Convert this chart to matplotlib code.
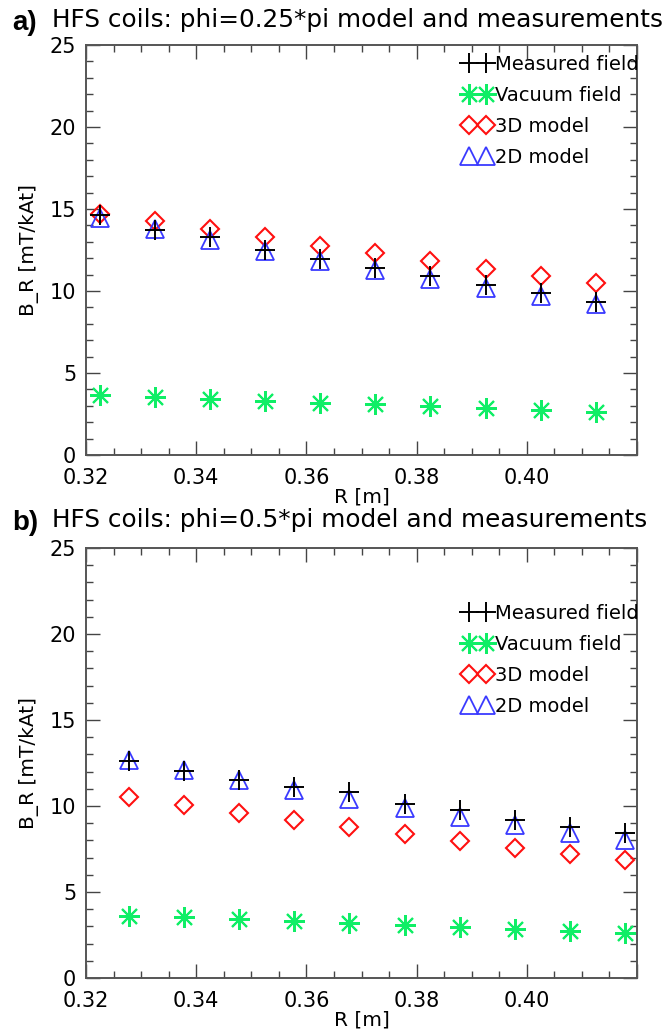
"""Two-panel B_R vs R comparison: measured field, vacuum field, 3D and 2D models."""
import matplotlib
matplotlib.use("Agg")
import matplotlib.pyplot as plt
from matplotlib.ticker import MultipleLocator, FixedLocator, FixedFormatter

# ---- panel a: phi = 0.25*pi
R_a = [0.3225, 0.3325, 0.3425, 0.3525, 0.3625, 0.3725, 0.3825, 0.3925, 0.4025, 0.4125]
meas_a = [14.65, 13.75, 13.3, 12.5, 11.95, 11.4, 10.9, 10.35, 9.85, 9.3]
vac_a = [3.67, 3.55, 3.43, 3.31, 3.19, 3.08, 2.98, 2.86, 2.74, 2.62]
model3d_a = [14.72, 14.27, 13.79, 13.27, 12.76, 12.32, 11.83, 11.37, 10.89, 10.48]
model2d_a = [14.45, 13.8, 13.1, 12.45, 11.85, 11.27, 10.73, 10.2, 9.7, 9.2]

# ---- panel b: phi = 0.5*pi
R_b = [0.3278, 0.3378, 0.3478, 0.3578, 0.3678, 0.3778, 0.3878, 0.3978, 0.4078, 0.4178]
meas_b = [12.6, 12.05, 11.5, 11.1, 10.8, 10.1, 9.75, 9.2, 8.8, 8.45]
vac_b = [3.62, 3.54, 3.43, 3.31, 3.19, 3.07, 2.95, 2.83, 2.71, 2.59]
model3d_b = [10.55, 10.06, 9.62, 9.2, 8.77, 8.36, 7.96, 7.58, 7.19, 6.87]
model2d_b = [12.7, 12.1, 11.5, 10.95, 10.4, 9.86, 9.37, 8.87, 8.44, 8.02]

XTICKS = [0.32, 0.34, 0.36, 0.38, 0.40, 0.42]
XTICKLABELS = ["0.32", "0.34", "0.36", "0.38", "0.40", ""]
YTICKS = [0, 5, 10, 15, 20, 25]

GREEN = "#10ee66"
RED = "#ff1010"
BLUE = "#3a3aff"
FONT = "DejaVu Sans"

plt.rcParams["font.family"] = [FONT]

fig = plt.figure(figsize=(6.7, 10.32), dpi=100, facecolor="white")

panels = [
    # (axes rect, tag, title, R, meas, vac, 3d, 2d, legend y anchor, title y px from bottom)
    ([0.1284, 0.5591, 0.8224, 0.3973], "a)", "HFS coils: phi=0.25*pi model and measurements",
     R_a, meas_a, vac_a, model3d_a, model2d_a, 0.995, 1009),
    ([0.1284, 0.0523, 0.8224, 0.4167], "b)", "HFS coils: phi=0.5*pi model and measurements",
     R_b, meas_b, vac_b, model3d_b, model2d_b, 0.888, 509),
]

for rect, tag, title, R, meas, vac, m3, m2, leg_y, title_y in panels:
    ax = fig.add_axes(rect)
    ax.plot(R, m3, linestyle="none", marker="D", markersize=9.5, markerfacecolor="none",
            markeredgecolor=RED, markeredgewidth=1.5, label="3D model")
    ax.plot(R, m2, linestyle="none", marker="^", markersize=13, markerfacecolor="none",
            markeredgecolor=BLUE, markeredgewidth=1.3, label="2D model")
    ax.plot(R, meas, linestyle="none", marker="+", markersize=15, color="black",
            markeredgewidth=1.4, label="Measured field")
    ax.plot(R, vac, linestyle="none", marker=(8, 2, 0), markersize=15, color=GREEN,
            markeredgewidth=1.5, label="Vacuum field")

    ax.set_xlim(0.32, 0.42)
    ax.set_ylim(0, 25)
    ax.xaxis.set_major_locator(FixedLocator(XTICKS))
    ax.xaxis.set_major_formatter(FixedFormatter(XTICKLABELS))
    ax.xaxis.set_minor_locator(MultipleLocator(0.005))
    ax.yaxis.set_major_locator(FixedLocator(YTICKS))
    ax.yaxis.set_minor_locator(MultipleLocator(1))
    ax.tick_params(which="both", direction="in", top=True, right=True,
                   colors="#444444", labelcolor="black", labelsize=15)
    ax.tick_params(which="major", length=10, width=1.0)
    ax.tick_params(axis="x", which="major", pad=9)
    ax.tick_params(axis="y", which="major", pad=7)
    ax.tick_params(which="minor", length=5, width=1.0)
    for s in ax.spines.values():
        s.set_color("#555555")
        s.set_linewidth(1.4)

    ax.set_xlabel("R [m]", fontsize=14.5, labelpad=0)
    ax.set_ylabel("B_R [mT/kAt]", fontsize=14.5, labelpad=8)

    handles, labels = ax.get_legend_handles_labels()
    order = [2, 3, 0, 1]
    ax.legend([handles[i] for i in order], [labels[i] for i in order],
              loc="upper left", bbox_to_anchor=(0.67, leg_y), frameon=False,
              numpoints=2, fontsize=14, handlelength=1.5, handletextpad=0.15,
              labelspacing=0.62, borderaxespad=0.0)

    fig.text(12 / 670, title_y / 1032, tag, fontsize=20, fontweight="bold",
             family=["Liberation Sans", FONT], ha="left", va="center")
    fig.text(52 / 670, (title_y + 3) / 1032, title, fontsize=17.8, ha="left", va="center")

fig.savefig("out.png", dpi=100, facecolor="white")
